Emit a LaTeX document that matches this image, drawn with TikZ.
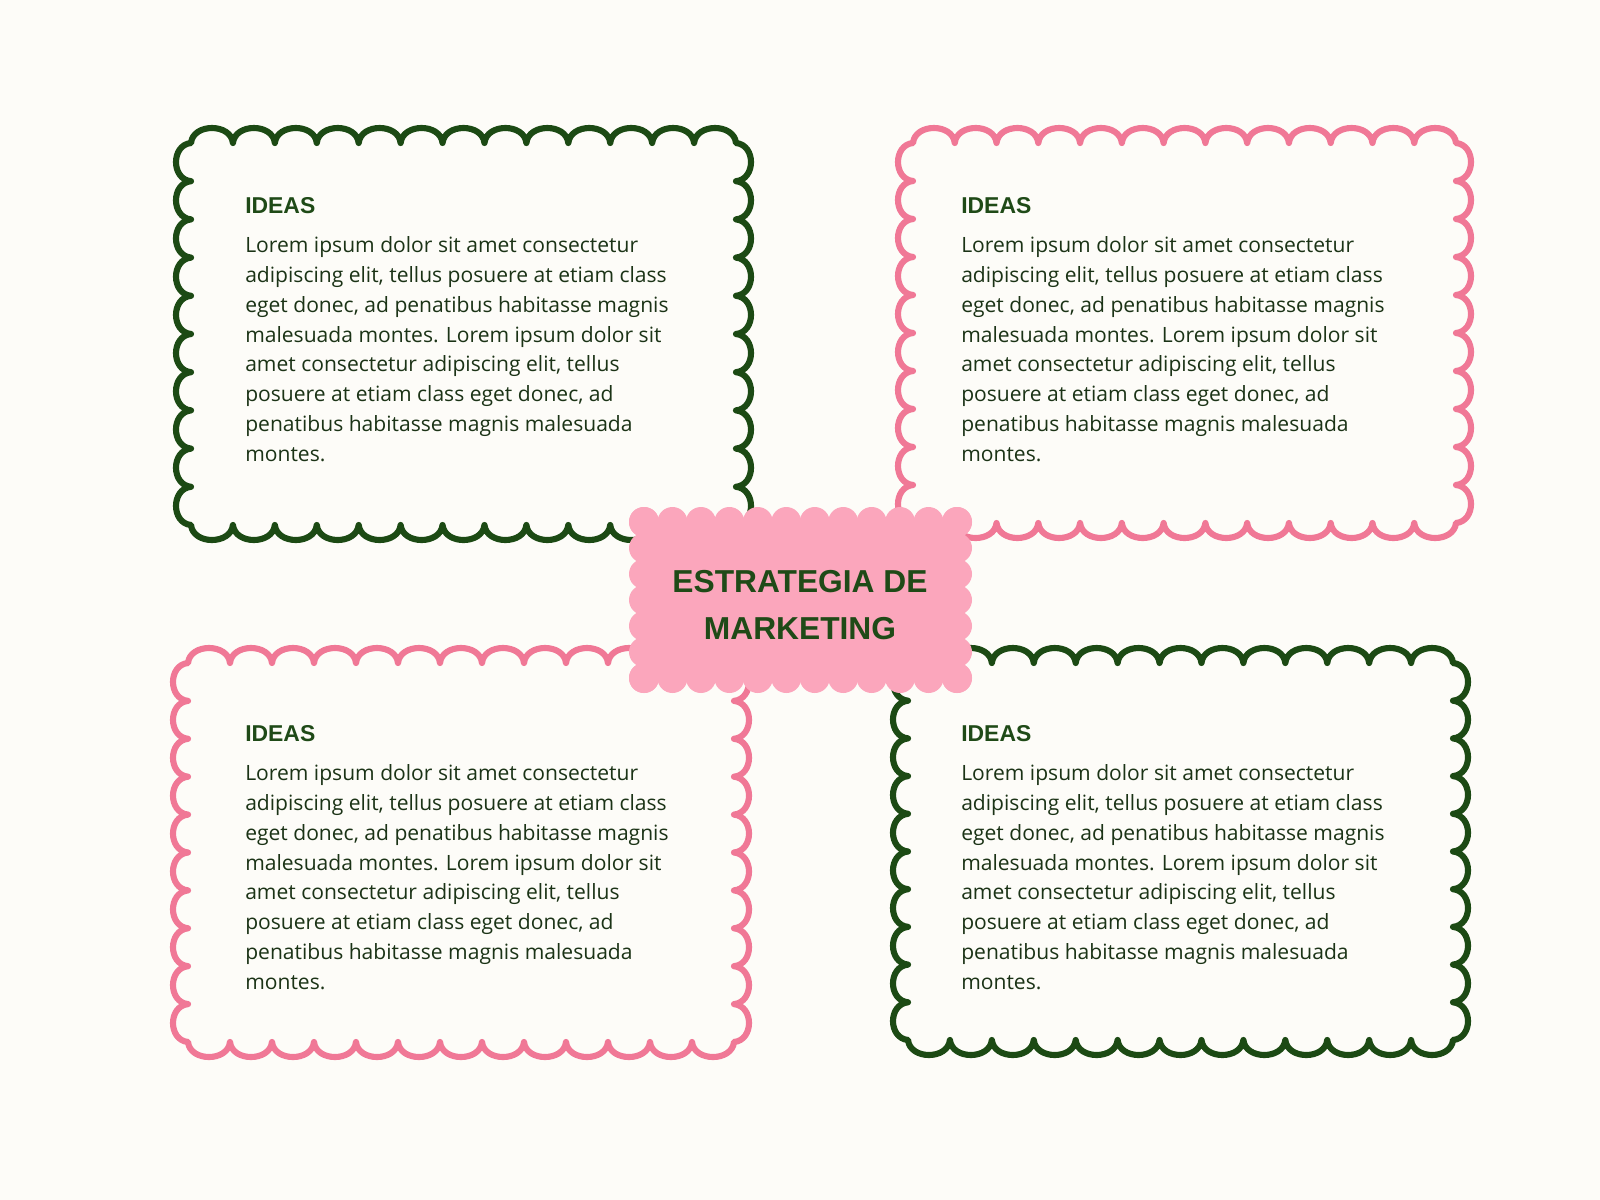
\documentclass[tikz,border=0pt]{standalone}
\usepackage{fontspec}
\setmainfont{Open Sans}
\newfontfamily\headfont{Liberation Sans}
\definecolor{bgc}{HTML}{FDFCF8}
\definecolor{grn}{HTML}{1C4A14}
\definecolor{pnk}{HTML}{F07896}
\definecolor{pfill}{HTML}{FBA6BC}
\definecolor{txt}{HTML}{1B3316}
\definecolor{head}{HTML}{1F4A17}
\newcommand\scbox[7]{%
  \pgfmathsetmacro\scw{(#3-#1)/#5}%
  \pgfmathsetmacro\sch{(#4-#2)/#6}%
  \draw[#7] (#1,#2)
    \foreach \i in {1,...,#5}{ .. controls +({0.05*\scw},-20) and +({-0.05*\scw},-20) .. ++(\scw,0)}
    \foreach \i in {1,...,#6}{ .. controls +(20,{0.05*\sch}) and +(20,{-0.05*\sch}) .. ++(0,\sch)}
    \foreach \i in {1,...,#5}{ .. controls +({-0.05*\scw},20) and +({0.05*\scw},20) .. ++(-\scw,0)}
    \foreach \i in {1,...,#6}{ .. controls +(-20,{-0.05*\sch}) and +(-20,{0.05*\sch}) .. ++(0,-\sch)}
    -- cycle;}
\newcommand\bodytext{Lorem ipsum dolor sit amet consectetur\\
adipiscing elit, tellus posuere at etiam class\\
eget donec, ad penatibus habitasse magnis\\
malesuada montes. Lorem ipsum dolor sit\\
amet consectetur adipiscing elit, tellus\\
posuere at etiam class eget donec, ad\\
penatibus habitasse magnis malesuada\\
montes.}
\tikzset{
  frame/.style={line width=4.6pt, line join=round, line cap=round},
  heading/.style={anchor=base west, inner sep=0pt, text=head, font=\headfont\fontsize{17.2pt}{20pt}\selectfont\bfseries},
  body/.style={anchor=base west, inner sep=0pt, align=left, text=txt, font=\fontsize{15.8pt}{22.3pt}\selectfont},
  title/.style={anchor=base, inner sep=0pt, align=center, text=head, font=\headfont\fontsize{23.8pt}{35.2pt}\selectfont\bfseries}
}
\begin{document}
\begin{tikzpicture}[x=0.75pt,y=-0.75pt]
\fill[bgc] (0,0) rectangle (1600,1200);
\useasboundingbox (0,0) rectangle (1600,1200);
% boxes
\scbox{191}{143}{736}{525}{13}{10}{frame, draw=grn}
\scbox{913}{143}{1456}{523}{13}{10}{frame, draw=pnk}
\scbox{188}{663}{734}{1042}{13}{10}{frame, draw=pnk}
\scbox{908}{663}{1453}{1040}{13}{10}{frame, draw=grn}
% texts
\node[heading] (h1) at (245,213) {IDEAS};
\node[body] (b1) at (245,461) {\bodytext};
\node[heading] (h2) at (961,213) {IDEAS};
\node[body] (b2) at (961,461) {\bodytext};
\node[heading] (h3) at (245,741) {IDEAS};
\node[body] (b3) at (245,989) {\bodytext};
\node[heading] (h4) at (961,741) {IDEAS};
\node[body] (b4) at (961,989) {\bodytext};
% center
\fill[pfill] (644,522) rectangle (957,678);
\foreach \k in {0,...,11}{
  \fill[pfill] ({644+\k*313/11},522) circle (15);
  \fill[pfill] ({644+\k*313/11},678) circle (15);
}
\foreach \k in {0,...,6}{
  \fill[pfill] (644,{522+\k*26}) circle (15);
  \fill[pfill] (957,{522+\k*26}) circle (15);
}
\node[title] (center) at (800,639) {ESTRATEGIA DE\\MARKETING};
\end{tikzpicture}
\end{document}
